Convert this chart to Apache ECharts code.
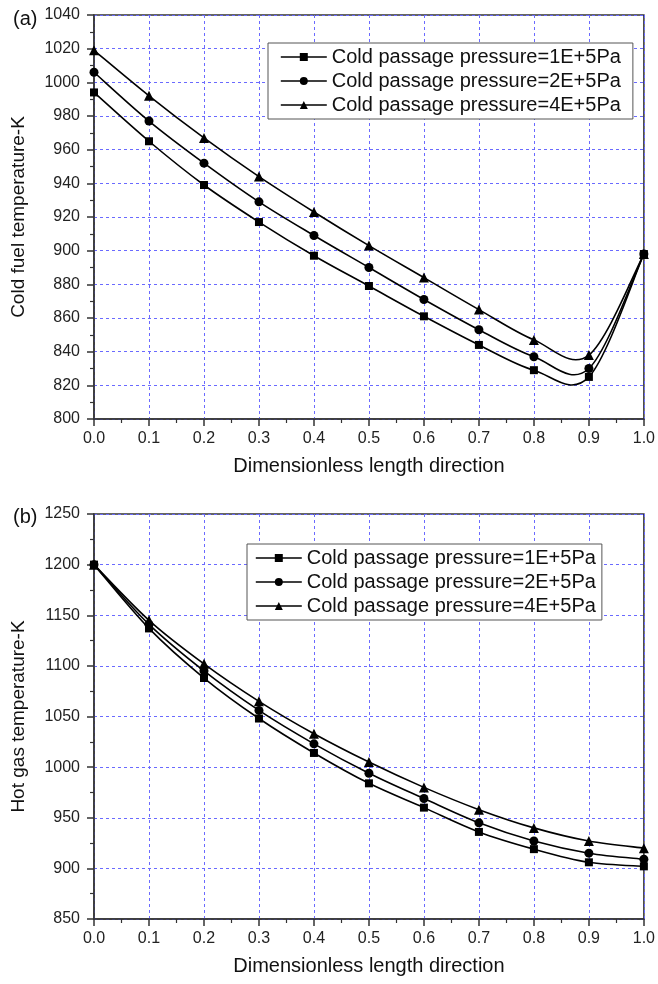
<!DOCTYPE html>
<html>
<head>
    <meta charset="utf-8">
    <title>Cold fuel / hot gas temperature</title>
    <style>
        html, body { margin: 0; padding: 0; background: #fff; }
        #chartBox { width: 658px; height: 984px; }
    </style>
</head>
<body>
    <div id="chartBox"></div>
    <script src="https://cdn.jsdelivr.net/npm/echarts@6/dist/echarts.min.js"></script>
    <script>
        // x positions along the channel
        var xPos = [0.0, 0.1, 0.2, 0.3, 0.4, 0.5, 0.6, 0.7, 0.8, 0.9, 1.0];
        var seriesNames = ['Cold passage pressure=1E+5Pa', 'Cold passage pressure=2E+5Pa', 'Cold passage pressure=4E+5Pa'];
        var symbols = ['rect', 'circle', 'triangle'];
        var symbolSizes = [8, 9, 10];

        // (a) cold fuel temperature, K
        var cold1 = [994, 965, 939, 917, 897, 879, 861, 844, 829, 825, 898];
        var cold2 = [1006, 977, 952, 929, 909, 890, 871, 853, 837, 830, 898];
        var cold4 = [1019, 992, 967, 944, 923, 903, 884, 865, 847, 838, 898];

        // (b) hot gas temperature, K
        var hot1 = [1200, 1137, 1088, 1048, 1014, 984, 960, 936, 919, 906, 902];
        var hot2 = [1200, 1141, 1095, 1056, 1023, 994, 969, 945, 927, 915, 909];
        var hot4 = [1200, 1145, 1102, 1065, 1033, 1005, 980, 958, 940, 927, 920];

        var font = '"Liberation Sans", Arial, sans-serif';
        var chart = echarts.init(document.getElementById('chartBox'));

        function pairs(vals) {
            return xPos.map(function (x, i) { return [x, vals[i]]; });
        }

        // spline through the points (like Origin's B-spline line), drawn in pixel space
        function splineItem(params, api) {
            if (params.dataIndexInside !== 0) return null;
            var n = params.dataInsideLength, p = [];
            for (var i = 0; i < n; i++) {
                p.push(api.coord([api.value(0, i), api.value(1, i)]));
            }
            var d = 'M' + p[0][0] + ',' + p[0][1];
            for (var k = 0; k < n - 1; k++) {
                var p0 = p[Math.max(k - 1, 0)], p1 = p[k], p2 = p[k + 1], p3 = p[Math.min(k + 2, n - 1)];
                var c1x = p1[0] + (p2[0] - p0[0]) / 6, c1y = p1[1] + (p2[1] - p0[1]) / 6;
                var c2x = p2[0] - (p3[0] - p1[0]) / 6, c2y = p2[1] - (p3[1] - p1[1]) / 6;
                d += 'C' + c1x + ',' + c1y + ',' + c2x + ',' + c2y + ',' + p2[0] + ',' + p2[1];
            }
            return {
                type: 'path',
                shape: { pathData: d },
                style: { fill: null, stroke: '#000', lineWidth: 1.6 }
            };
        }

        function xAxisCfg(idx) {
            return {
                gridIndex: idx, type: 'value', min: 0, max: 1, interval: 0.1,
                name: 'Dimensionless length direction', nameLocation: 'middle', nameGap: 37,
                nameTextStyle: { fontFamily: font, fontSize: 20, color: '#111' },
                axisLine: { lineStyle: { color: '#333', width: 1.5 } },
                axisTick: { length: 7, lineStyle: { color: '#333', width: 1.5 } },
                minorTick: { show: true, splitNumber: 2, length: 4, lineStyle: { color: '#333', width: 1.2 } },
                axisLabel: { fontFamily: font, fontSize: 16, color: '#222', margin: 12,
                    formatter: function (v) { return v.toFixed(1); } },
                splitLine: { show: true, lineStyle: { color: '#6a6aff', type: [3, 3], width: 1 } }
            };
        }

        function yAxisCfg(idx, name, min, max, step) {
            return {
                gridIndex: idx, type: 'value', min: min, max: max, interval: step,
                name: name, nameLocation: 'middle', nameGap: 66,
                nameTextStyle: { fontFamily: font, fontSize: 19, color: '#111' },
                axisLine: { show: true, lineStyle: { color: '#333', width: 1.5 } },
                axisTick: { show: true, length: 7, lineStyle: { color: '#333', width: 1.5 } },
                minorTick: { show: true, splitNumber: 2, length: 4, lineStyle: { color: '#333', width: 1.2 } },
                axisLabel: { fontFamily: font, fontSize: 16, color: '#222', margin: 14,
                    formatter: function (v) { return String(v); } },
                splitLine: { show: true, lineStyle: { color: '#6a6aff', type: [3, 3], width: 1 } }
            };
        }

        function legendCfg(left, top, pad) {
            return {
                data: seriesNames.map(function (n) { return { name: n }; }),
                orient: 'vertical', left: left, top: top,
                itemWidth: 46, itemHeight: 10, itemGap: 4,
                padding: pad,
                borderColor: '#555', borderWidth: 1, backgroundColor: '#fff',
                lineStyle: { color: '#000', width: 1.6, opacity: 1 },
                textStyle: { fontFamily: font, fontSize: 20, color: '#111', lineHeight: 20 },
                selectedMode: false
            };
        }

        var series = [];
        [[cold1, cold2, cold4], [hot1, hot2, hot4]].forEach(function (group, g) {
            group.forEach(function (vals, i) {
                // curve
                series.push({
                    name: 'curve' + g + i, type: 'custom', xAxisIndex: g, yAxisIndex: g,
                    data: pairs(vals), encode: { x: 0, y: 1 },
                    renderItem: splineItem, silent: true, z: 2
                });
                // markers (+ legend entry)
                series.push({
                    name: seriesNames[i], type: 'line', xAxisIndex: g, yAxisIndex: g,
                    data: pairs(vals),
                    symbol: symbols[i], symbolSize: symbolSizes[i], showSymbol: true,
                    lineStyle: { color: '#000', width: 1.6, opacity: 0 },
                    itemStyle: { color: '#000' },
                    z: 3
                });
            });
        });

        var option = {
            backgroundColor: '#fff',
            animation: false,
            title: [
                { text: '(a)', left: 8, top: 4, textStyle: { fontFamily: font, fontSize: 20, fontWeight: 'normal', color: '#111' } },
                { text: '(b)', left: 8, top: 502, textStyle: { fontFamily: font, fontSize: 20, fontWeight: 'normal', color: '#111' } }
            ],
            grid: [
                { left: 94, right: 14, top: 15, height: 404, show: true, borderColor: '#333', borderWidth: 1.5 },
                { left: 94, right: 14, top: 514, height: 405, show: true, borderColor: '#333', borderWidth: 1.5 }
            ],
            legend: [legendCfg(268, 43, [4, 12, 4, 12]), legendCfg(247, 544, [4, 6, 4, 8])],
            xAxis: [xAxisCfg(0), xAxisCfg(1)],
            yAxis: [
                yAxisCfg(0, 'Cold fuel temperature-K', 800, 1040, 20),
                yAxisCfg(1, 'Hot gas temperature-K', 850, 1250, 50)
            ],
            series: series
        };
        chart.setOption(option);
    </script>
</body>
</html>
